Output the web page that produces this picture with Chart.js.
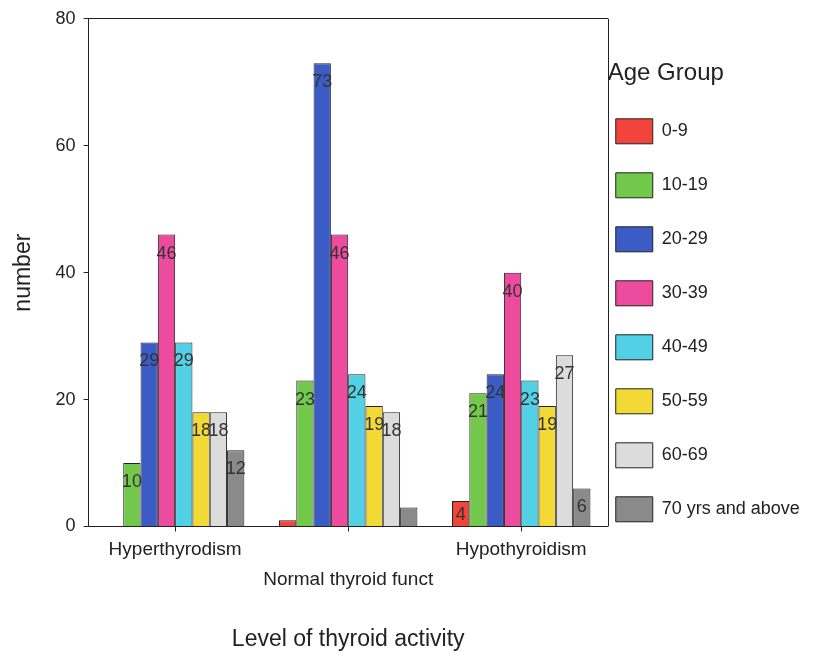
<!DOCTYPE html>
<html>
<head>
<meta charset="utf-8">
<script src="https://cdn.jsdelivr.net/npm/chart.js@4.4.1/dist/chart.umd.min.js"></script>
<style>
  html, body { margin: 0; padding: 0; background: #fff; }
  #wrap { width: 815px; height: 653px; }
</style>
</head>
<body>
<div id="wrap"><canvas id="chart"></canvas></div>
<script>
// data
const categories = [['Hyperthyrodism'], ['', 'Normal thyroid funct'], ['Hypothyroidism']];
const ageGroups = ['0-9', '10-19', '20-29', '30-39', '40-49', '50-59', '60-69', '70 yrs and above'];
const age0to9 = [0, 1, 4];
const age10to19 = [10, 23, 21];
const age20to29 = [29, 73, 24];
const age30to39 = [46, 46, 40];
const age40to49 = [29, 24, 23];
const age50to59 = [18, 19, 19];
const age60to69 = [18, 18, 27];
const age70plus = [12, 3, 6];
const yTicks = [0, 20, 40, 60, 80];

const seriesValues = [age0to9, age10to19, age20to29, age30to39, age40to49, age50to59, age60to69, age70plus];
const colors = ['#f2443a', '#72c84a', '#3a5cc4', '#ec4b9e', '#52d0e6', '#f3d935', '#dcdcdc', '#8a8a8a'];

const FONT = '"Liberation Sans", Arial, sans-serif';

// numbers printed inside bars, near the top
const barLabels = {
    id: 'barLabels',
    afterDatasetsDraw(chart) {
        const ctx = chart.ctx;
        ctx.save();
        ctx.font = '18px ' + FONT;
        ctx.fillStyle = '#333';
        ctx.textAlign = 'center';
        ctx.textBaseline = 'middle';
        chart.data.datasets.forEach((ds, i) => {
            chart.getDatasetMeta(i).data.forEach((bar, j) => {
                const v = ds.data[j];
                if (v < 4) return;
                const h = bar.base - bar.y;
                ctx.fillText(String(v), bar.x, bar.y + Math.min(19, h / 2 + 1));
            });
        });
        ctx.restore();
    }
};

// right edge of the plot frame (top edge comes from the xTop axis)
const frameRight = {
    id: 'frameRight',
    afterDraw(chart) {
        const a = chart.chartArea;
        const ctx = chart.ctx;
        ctx.save();
        ctx.strokeStyle = '#222';
        ctx.lineWidth = 1;
        ctx.beginPath();
        ctx.moveTo(Math.round(a.right) + 0.5, a.top);
        ctx.lineTo(Math.round(a.right) + 0.5, a.bottom);
        ctx.stroke();
        ctx.restore();
    }
};

const ctx = document.getElementById('chart').getContext('2d');
new Chart(ctx, {
    type: 'bar',
    data: {
        labels: categories,
        datasets: ageGroups.map((g, i) => ({
            label: [g],   // array label so the legend row height follows font.lineHeight
            data: seriesValues[i],
            backgroundColor: colors[i],
            borderColor: '#222',
            borderWidth: 1,
            categoryPercentage: 0.8,
            barPercentage: 1.0
        }))
    },
    options: {
        responsive: true,
        maintainAspectRatio: false,
        animation: false,
        layout: { padding: { top: 0, left: 10, right: 8, bottom: 0 } },
        plugins: {
            tooltip: { enabled: false },
            legend: {
                position: 'right',
                align: 'start',
                title: {
                    display: true,
                    text: 'Age Group',
                    color: '#222',
                    position: 'start',
                    font: { family: FONT, size: 24 },
                    padding: { top: 61, bottom: 21 }
                },
                labels: {
                    color: '#222',
                    font: { family: FONT, size: 18, lineHeight: '46px' },
                    boxWidth: 37,
                    boxHeight: 25,
                    padding: 8
                }
            }
        },
        scales: {
            x: {
                grid: { drawOnChartArea: false, offset: false, tickLength: 5, color: '#222' },
                border: { color: '#222', width: 1 },
                ticks: {
                    color: '#222',
                    font: { family: FONT, size: 19, lineHeight: 1.55 },
                    maxRotation: 0,
                    autoSkip: false,
                    padding: 4
                },
                title: {
                    display: true,
                    text: 'Level of thyroid activity',
                    color: '#222',
                    font: { family: FONT, size: 23 },
                    padding: { top: 27, bottom: 0 }
                }
            },
            xTop: {
                type: 'category',
                position: 'top',
                labels: categories,
                grid: { display: false },
                ticks: { display: false },
                border: { display: true, color: '#222', width: 1 }
            },
            y: {
                min: 0,
                max: 80,
                afterBuildTicks: axis => { axis.ticks = yTicks.map(v => ({ value: v })); },
                grid: { drawOnChartArea: false, tickLength: 5, color: '#222' },
                border: { color: '#222', width: 1 },
                ticks: { color: '#222', font: { family: FONT, size: 18 }, padding: 8 },
                title: {
                    display: true,
                    text: 'number',
                    color: '#222',
                    font: { family: FONT, size: 23 },
                    padding: { top: 0, bottom: 10 }
                }
            }
        }
    },
    plugins: [barLabels, frameRight]
});
</script>
</body>
</html>
